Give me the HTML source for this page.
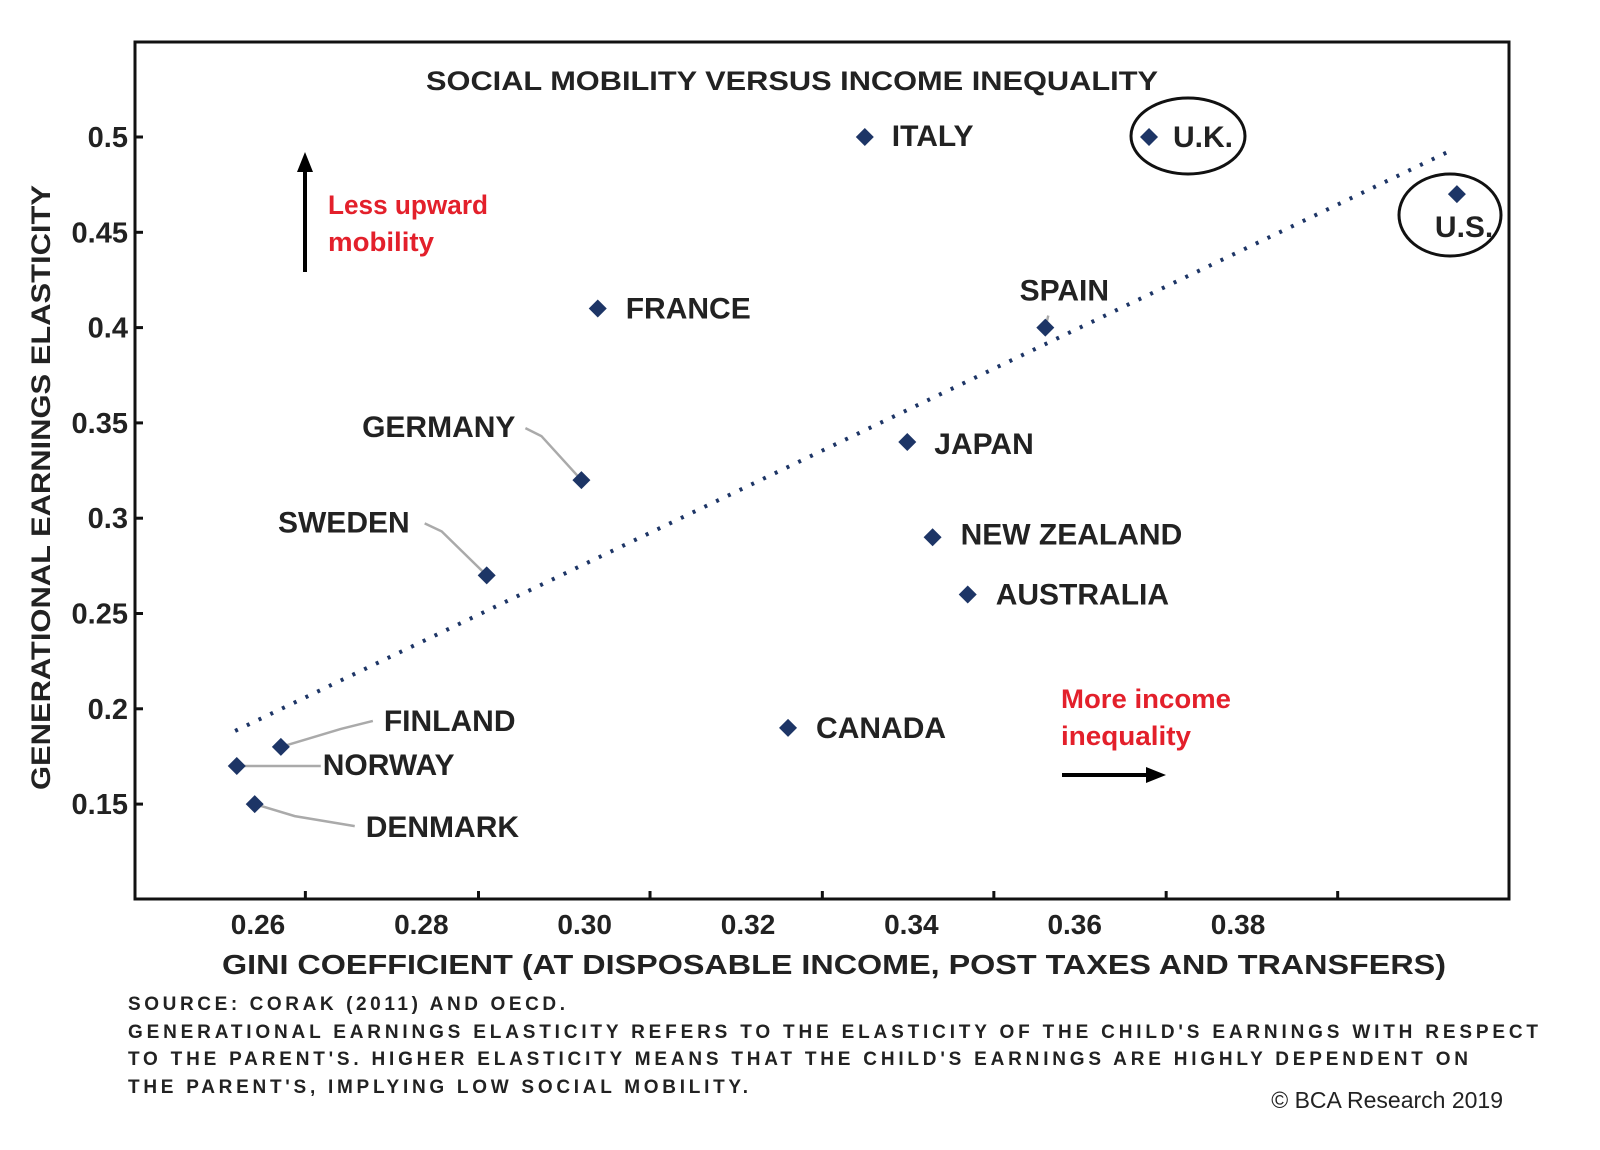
<!DOCTYPE html>
<html><head><meta charset="utf-8"><style>
html,body{margin:0;padding:0;background:#fff;}
svg{display:block;font-family:"Liberation Sans",Arial,sans-serif;}
</style></head><body>
<svg id="chart" width="1600" height="1150" viewBox="0 0 1600 1150">
<rect x="135" y="42" width="1374" height="857" fill="none" stroke="#111" stroke-width="3"/>
<text x="426" y="90" textLength="732" lengthAdjust="spacingAndGlyphs" font-size="27" font-weight="bold" fill="#222">SOCIAL MOBILITY VERSUS INCOME INEQUALITY</text>
<g id="yticks"></g>
<g id="xticks"></g>
<text transform="translate(50,790) rotate(-90)" textLength="605" lengthAdjust="spacingAndGlyphs" font-size="27" font-weight="bold" fill="#222">GENERATIONAL EARNINGS ELASTICITY</text>
<text x="222" y="974" textLength="1224" lengthAdjust="spacingAndGlyphs" font-size="28" font-weight="bold" fill="#222">GINI COEFFICIENT (AT DISPOSABLE INCOME, POST TAXES AND TRANSFERS)</text>
<g id="trend"></g>
<g id="leaders"></g>
<g id="points"></g>
<g id="labels"></g>
<ellipse cx="1188" cy="136" rx="57" ry="38" fill="none" stroke="#111" stroke-width="3"/>
<ellipse cx="1450" cy="215" rx="51" ry="41" fill="none" stroke="#111" stroke-width="3"/>
<line x1="305" y1="272" x2="305" y2="168" stroke="#000" stroke-width="4"/>
<polygon points="305,152 297,172 313,172" fill="#000"/>
<text x="328" y="214" font-size="27" font-weight="bold" fill="#e3202b" textLength="160" lengthAdjust="spacingAndGlyphs">Less upward</text>
<text x="328" y="251" font-size="27" font-weight="bold" fill="#e3202b" textLength="106" lengthAdjust="spacingAndGlyphs">mobility</text>
<line x1="1062" y1="775" x2="1148" y2="775" stroke="#000" stroke-width="4"/>
<polygon points="1166,775 1146,767 1146,783" fill="#000"/>
<text x="1061" y="708" font-size="27" font-weight="bold" fill="#e3202b" textLength="170" lengthAdjust="spacingAndGlyphs">More income</text>
<text x="1061" y="745" font-size="27" font-weight="bold" fill="#e3202b" textLength="130" lengthAdjust="spacingAndGlyphs">inequality</text>
<g font-size="19" font-weight="bold" fill="#222">
<text x="128" y="1010" textLength="437">SOURCE: CORAK (2011) AND OECD.</text>
<text x="128" y="1038" textLength="1410">GENERATIONAL EARNINGS ELASTICITY REFERS TO THE ELASTICITY OF THE CHILD'S EARNINGS WITH RESPECT</text>
<text x="128" y="1065" textLength="1340">TO THE PARENT'S. HIGHER ELASTICITY MEANS THAT THE CHILD'S EARNINGS ARE HIGHLY DEPENDENT ON</text>
<text x="128" y="1093" textLength="620">THE PARENT'S, IMPLYING LOW SOCIAL MOBILITY.</text>
</g>
<text x="1503" y="1108" text-anchor="end" font-size="23" fill="#222">© BCA Research 2019</text>
</svg>
<script>
const countries = ["NORWAY","DENMARK","FINLAND","SWEDEN","GERMANY","FRANCE","CANADA","ITALY","JAPAN","NEW ZEALAND","AUSTRALIA","SPAIN","U.K.","U.S."];
const giniValues = [0.2574,0.2596,0.2628,0.2880,0.2996,0.3016,0.3249,0.3343,0.3395,0.3426,0.3469,0.3564,0.3691,0.4068];
const elasticityValues = [0.17,0.15,0.18,0.27,0.32,0.41,0.19,0.50,0.34,0.29,0.26,0.40,0.50,0.47];
const yTickValues = [0.15,0.2,0.25,0.3,0.35,0.4,0.45,0.5];
const yTickLabels = ["0.15","0.2","0.25","0.3","0.35","0.4","0.45","0.5"];
const xLabelValues = [0.26,0.28,0.30,0.32,0.34,0.36,0.38];
const xLabelTexts = ["0.26","0.28","0.30","0.32","0.34","0.36","0.38"];
const xTickMarkValues = [0.2658,0.2870,0.3080,0.3291,0.3501,0.3712,0.3922];
const trendX = [0.2572,0.4062];
const trendY = [0.1884,0.4932];

const NS="http://www.w3.org/2000/svg";
function xs(v){return 258+(v-0.26)*8167;}
function ys(v){return 137+(0.5-v)*1906;}
function mk(tag,attrs,parent,text){const e=document.createElementNS(NS,tag);for(const k in attrs)e.setAttribute(k,attrs[k]);if(text!==undefined)e.textContent=text;parent.appendChild(e);return e;}

const yg=document.getElementById('yticks');
yTickValues.forEach((v,i)=>{
  const t=mk('line',{x1:135,x2:143,y1:ys(v),y2:ys(v),stroke:'#111','stroke-width':3},yg);
  
  
  const l=mk('text',{x:128,y:ys(v)+10,'text-anchor':'end','font-size':29,'font-weight':'bold',fill:'#222'},yg,yTickLabels[i]);
  
  
});
const xg=document.getElementById('xticks');
xTickMarkValues.forEach(v=>{
  const t=mk('line',{x1:xs(v),x2:xs(v),y1:891,y2:899,stroke:'#111','stroke-width':3},xg);
  
  
});
xLabelValues.forEach((v,i)=>{
  const l=mk('text',{x:xs(v),y:934,'text-anchor':'middle','font-size':28,'font-weight':'bold',fill:'#222'},xg,xLabelTexts[i]);
  
  
});
const tg=document.getElementById('trend');
const tl=mk('line',{x1:xs(trendX[0]),y1:ys(trendY[0]),x2:xs(trendX[1]),y2:ys(trendY[1]),stroke:'#1d3566','stroke-width':4,'stroke-dasharray':'3 10'},tg);



// label offsets relative to point: [dx, dy, anchor, leader]
const labelPos = {
 "NORWAY":[86,9,'start',[[0,0],[84,0]]],
 "DENMARK":[111,33,'start',[[0,0],[40,12],[100,22]]],
 "FINLAND":[103,-16,'start',[[0,0],[60,-18],[92,-26]]],
 "SWEDEN":[-77,-43,'end',[[0,0],[-45,-44],[-62,-52]]],
 "GERMANY":[-66,-43,'end',[[0,0],[-40,-44],[-56,-52]]],
 "FRANCE":[28,10,'start',null],
 "CANADA":[28,10,'start',null],
 "ITALY":[27,9,'start',null],
 "JAPAN":[27,12,'start',null],
 "NEW ZEALAND":[28,7,'start',null],
 "AUSTRALIA":[28,10,'start',null],
 "SPAIN":[19,-27,'middle',[[0,0],[3,-12]]],
 "U.K.":[24,10,'start',null],
 "U.S.":[-22,43,'start',null]
};
const pg=document.getElementById('points'),lg=document.getElementById('labels'),ldg=document.getElementById('leaders');
countries.forEach((c,i)=>{
  const x=xs(giniValues[i]),y=ys(elasticityValues[i]);
  const p=mk('polygon',{points:`${x},${y-9} ${x+9},${y} ${x},${y+9} ${x-9},${y}`,fill:'#1d3566'},pg);
  
  
  const lp=labelPos[c];
  if(lp[3]){
    const ln=mk('polyline',{points:lp[3].map(q=>(x+q[0])+','+(y+q[1])).join(' '),fill:'none',stroke:'#aaa','stroke-width':2.5},ldg);
    
    
  }
  const t=mk('text',{x:x+lp[0],y:y+lp[1],'text-anchor':lp[2],'font-size':30,'font-weight':'bold',fill:'#222'},lg,c);
  
  
});
</script>
</body></html>
